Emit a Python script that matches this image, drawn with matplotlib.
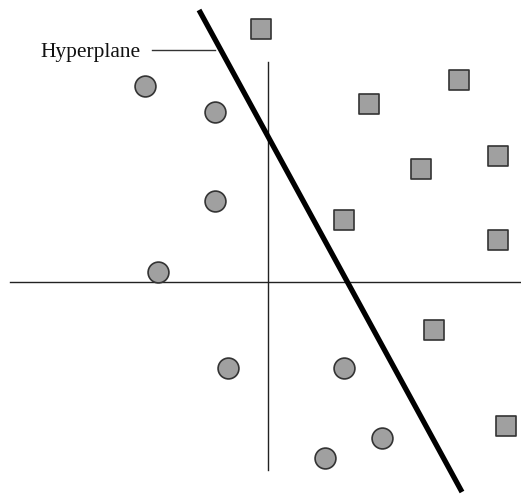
import matplotlib
matplotlib.use("Agg")
import matplotlib.pyplot as plt

# data coordinates relative to origin of the axes
circle_x = [-123, -53, -53, -110, -40, 76, 114, 57]
circle_y = [196, 170, 81, 10, -86, -86, -156, -176]
square_x = [-7, 191, 101, 230, 153, 76, 230, 166, 238]
square_y = [253, 202, 178, 126, 113, 62, 42, -48, -144]
hyper_x = [-69, 194]
hyper_y = [272, -210]
label = "Hyperplane"

fig = plt.figure(figsize=(5.21, 4.95), dpi=100)
ax = fig.add_axes([0, 0, 1, 1])
ax.set_xlim(-268, 253)
ax.set_ylim(-213, 282)
ax.axis("off")

# axes
ax.plot([-258, 253], [0, 0], color="#222222", lw=1.0)
ax.plot([0, 0], [-188, 220], color="#222222", lw=1.0)

# hyperplane
ax.plot(hyper_x, hyper_y, color="black", lw=3.8, solid_capstyle="butt", zorder=3)

# points
ax.scatter(circle_x, circle_y, s=15.0**2, marker="o", facecolor="#a0a0a0",
           edgecolor="#333333", linewidths=1.2, zorder=4)
ax.scatter(square_x, square_y, s=14.5**2, marker="s", facecolor="#a0a0a0",
           edgecolor="#333333", linewidths=1.2, zorder=4)

# label with leader line
ax.plot([-116, -53], [232, 232], color="#333333", lw=1.0)
ax.text(-127, 225, label, ha="right", va="baseline", fontsize=15.5,
        family="Liberation Serif", color="#111111")

fig.savefig("out.png", dpi=100)
